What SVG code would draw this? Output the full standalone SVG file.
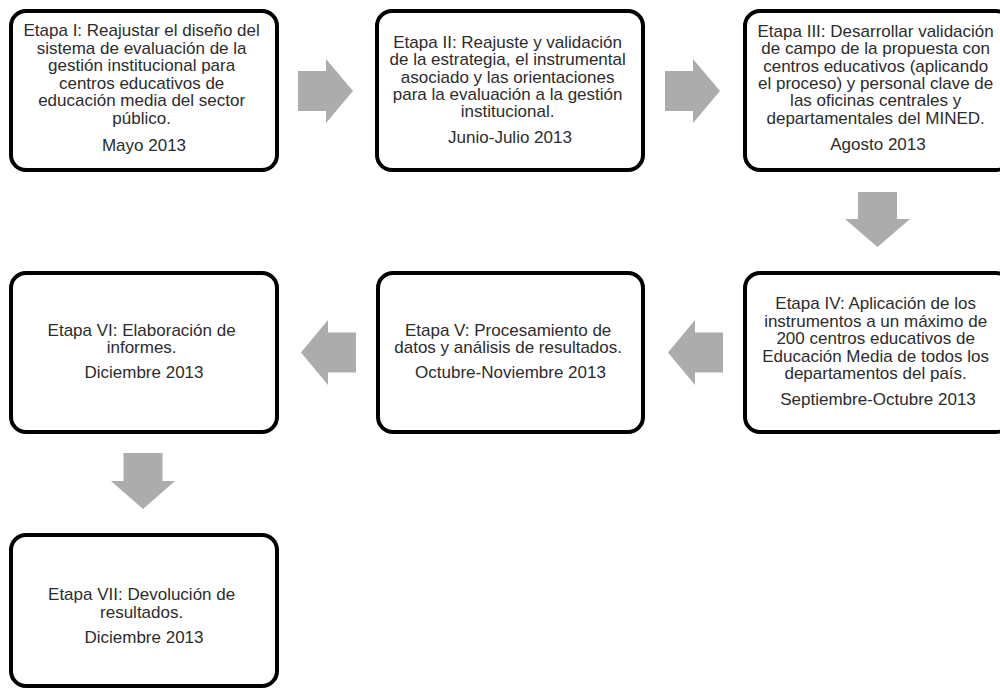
<svg xmlns="http://www.w3.org/2000/svg" width="1000" height="688" viewBox="0 0 1000 688">
  <style>
    .box { fill: #ffffff; stroke: #000000; stroke-width: 4; }
    .lbl { font-family: "Liberation Sans", Arial, sans-serif; font-size: 17px; fill: #2c2c2c; text-anchor: middle; }
    .arrow { fill: #acacac; stroke: none; }
  </style>
  <rect width="1000" height="688" fill="#ffffff"/>

  <!-- block arrows between stages -->
  <g id="connectors">
    <path class="arrow" d="M298,71 H326 V59 L353,91 L326,123 V111 H298 Z"/>
    <path class="arrow" d="M665,71 H693 V59 L720,91 L693,123 V111 H665 Z"/>
    <path class="arrow" d="M858,192 H897 V219 H910 L877.5,247 L845,219 H858 Z"/>
    <path class="arrow" d="M723,332.5 H695 V320 L668,352.5 L695,385 V372.5 H723 Z"/>
    <path class="arrow" d="M356,332.5 H328 V320 L301,352.5 L328,385 V372.5 H356 Z"/>
    <path class="arrow" d="M123.5,453 H162.5 V481 H175 L143,509 L111,481 H123.5 Z"/>
  </g>

  <g id="etapa1">
    <rect class="box" x="11" y="11" width="266" height="159" rx="15"/>
    <text class="lbl">
      <tspan x="144" y="36">Etapa I: Reajustar el diseño del</tspan>
      <tspan x="144" y="53.5">sistema de evaluación de la</tspan>
      <tspan x="144" y="71">gestión institucional para</tspan>
      <tspan x="144" y="88.5">centros educativos de</tspan>
      <tspan x="144" y="106">educación media del sector</tspan>
      <tspan x="144" y="123.5">público.</tspan>
      <tspan x="144" y="151">Mayo 2013</tspan>
    </text>
  </g>

  <g id="etapa2">
    <rect class="box" x="377" y="11" width="266" height="159" rx="15"/>
    <text class="lbl">
      <tspan x="510" y="48">Etapa II: Reajuste y validación</tspan>
      <tspan x="510" y="65.3">de la estrategia, el instrumental</tspan>
      <tspan x="510" y="82.6">asociado y las orientaciones</tspan>
      <tspan x="510" y="99.9">para la evaluación a la gestión</tspan>
      <tspan x="510" y="117.2">institucional.</tspan>
      <tspan x="510" y="143">Junio-Julio 2013</tspan>
    </text>
  </g>

  <g id="etapa3">
    <rect class="box" x="745" y="11" width="266" height="159" rx="15"/>
    <text class="lbl">
      <tspan x="878" y="37">Etapa III: Desarrollar validación</tspan>
      <tspan x="878" y="54.3">de campo de la propuesta con</tspan>
      <tspan x="878" y="71.6">centros educativos (aplicando</tspan>
      <tspan x="878" y="88.9">el proceso) y personal clave de</tspan>
      <tspan x="878" y="106.2">las oficinas centrales y</tspan>
      <tspan x="878" y="123.5">departamentales del MINED.</tspan>
      <tspan x="878" y="150">Agosto 2013</tspan>
    </text>
  </g>

  <g id="etapa4">
    <rect class="box" x="745" y="273" width="266" height="159" rx="15"/>
    <text class="lbl">
      <tspan x="878" y="309">Etapa IV: Aplicación de los</tspan>
      <tspan x="878" y="326.5">instrumentos a un máximo de</tspan>
      <tspan x="878" y="344">200 centros educativos de</tspan>
      <tspan x="878" y="361.5">Educación Media de todos los</tspan>
      <tspan x="878" y="379">departamentos del país.</tspan>
      <tspan x="878" y="404.5">Septiembre-Octubre 2013</tspan>
    </text>
  </g>

  <g id="etapa5">
    <rect class="box" x="378" y="273" width="265" height="159" rx="15"/>
    <text class="lbl">
      <tspan x="510.5" y="335.5">Etapa V: Procesamiento de</tspan>
      <tspan x="510.5" y="353">datos y análisis de resultados.</tspan>
      <tspan x="510.5" y="378">Octubre-Noviembre 2013</tspan>
    </text>
  </g>

  <g id="etapa6">
    <rect class="box" x="11" y="273" width="266" height="159" rx="15"/>
    <text class="lbl">
      <tspan x="144" y="335.5">Etapa VI: Elaboración de</tspan>
      <tspan x="144" y="353">informes.</tspan>
      <tspan x="144" y="378">Diciembre 2013</tspan>
    </text>
  </g>

  <g id="etapa7">
    <rect class="box" x="11" y="535" width="266" height="151" rx="15"/>
    <text class="lbl">
      <tspan x="144" y="600">Etapa VII: Devolución de</tspan>
      <tspan x="144" y="617.5">resultados.</tspan>
      <tspan x="144" y="642.5">Diciembre 2013</tspan>
    </text>
  </g>
</svg>
